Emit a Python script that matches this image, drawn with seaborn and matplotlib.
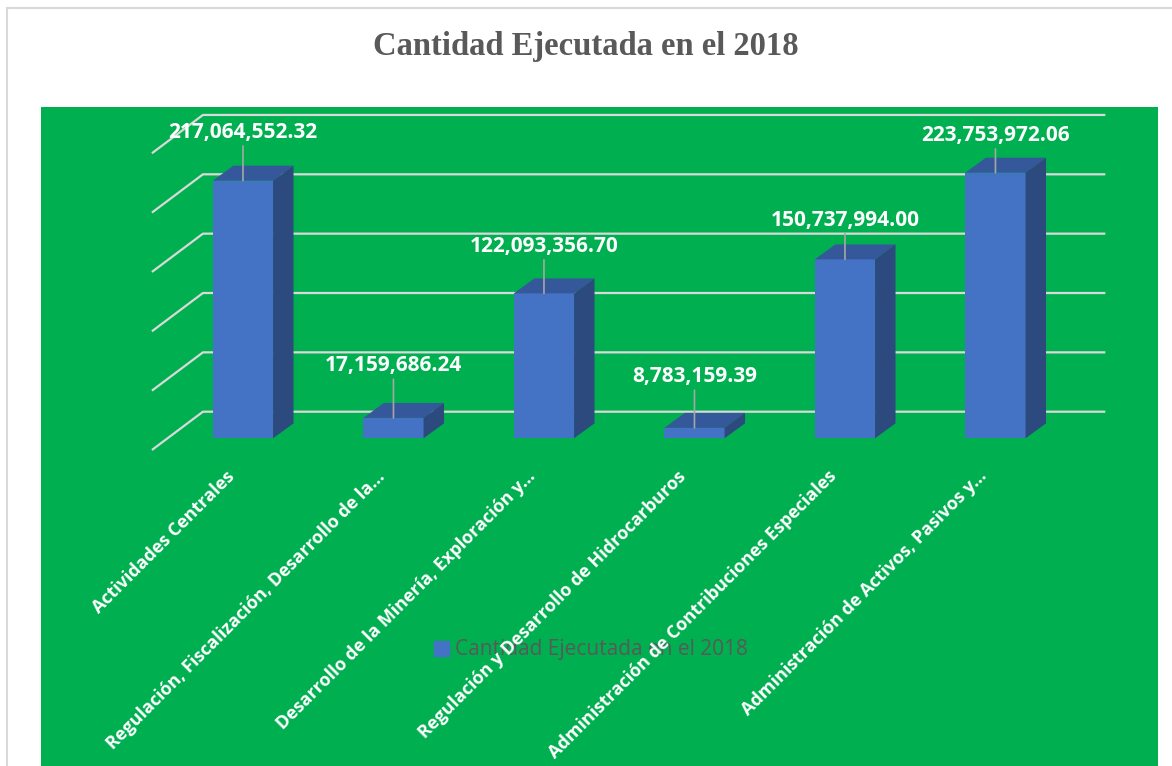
import matplotlib
matplotlib.use("Agg")
import matplotlib.pyplot as plt
import matplotlib.patches as mpatches
import matplotlib.transforms as mtransforms
import seaborn as sns

# data
categories = [
    "Actividades Centrales",
    "Regulación, Fiscalización, Desarrollo de la...",
    "Desarrollo de la Minería, Exploración y...",
    "Regulación y Desarrollo de Hidrocarburos",
    "Administración de Contribuciones Especiales",
    "Administración de Activos, Pasivos y...",
]
values = [217064552.32, 17159686.24, 122093356.70, 8783159.39, 150737994.00, 223753972.06]
grid_values = [0, 50e6, 100e6, 150e6, 200e6, 250e6]
series_name = "Cantidad Ejecutada en el 2018"

W, H = 1172, 766
fig = plt.figure(figsize=(W / 100, H / 100), dpi=100)
fig.patch.set_facecolor("white")

# outer chart border and green plot area
fig.patches.append(mpatches.Rectangle((6.5 / W, -0.01), 1.0, 1 - 8 / H + 0.01, transform=fig.transFigure,
                                      facecolor="white", edgecolor="#D9D9D9", lw=1.5, zorder=-3))
fig.patches.append(mpatches.Rectangle((41 / W, 0), (1158 - 41) / W, 1 - 107 / H, transform=fig.transFigure,
                                      facecolor="#00B050", edgecolor="none", zorder=-2))

ax = fig.add_axes([41 / W, 1 - 450 / H, (1158 - 41) / W, (450 - 107) / H])
ax.set_facecolor("none")
for s in ax.spines.values():
    s.set_visible(False)

front = "#4472C4"
top_c = "#35589A"
side_c = "#2C4A7E"

sns.barplot(x=categories, y=values, color=front, saturation=1, width=0.4, ax=ax, zorder=3, linewidth=0)

ax.set_xlim(-1.342, 6.080)
ax.set_ylim(-9.86e6, 279.1e6)

# back wall gridlines with the floor perspective on the left
for v in grid_values:
    ax.plot([-0.605, -0.266, 5.73], [v - 9.86e6, v + 22.4e6, v + 22.4e6],
            color="#D9D9D9", lw=1.6, zorder=1, clip_on=False, solid_capstyle="butt")

# 3D look: top and side faces
dx, dy = 0.136, 12.6e6
for p in ax.patches[:len(values)]:
    x0 = p.get_x()
    x1 = x0 + p.get_width()
    h = p.get_height()
    ax.add_patch(mpatches.Polygon([(x0, h), (x0 + dx, h + dy), (x1 + dx, h + dy), (x1, h)],
                                  closed=True, facecolor=top_c, edgecolor="none", zorder=3))
    ax.add_patch(mpatches.Polygon([(x1, 0), (x1 + dx, dy), (x1 + dx, h + dy), (x1, h)],
                                  closed=True, facecolor=side_c, edgecolor="none", zorder=3))

# data labels with leader lines
label_lift = [48, 52, 47, 51, 39, 37]
for i, v in enumerate(values):
    ax.annotate(f"{v:,.2f}", xy=(i, v), xytext=(0, label_lift[i] * 0.72), textcoords="offset points",
                ha="center", va="center", color="white", fontsize=15, fontweight="bold",
                family="Open Sans", zorder=5,
                arrowprops=dict(arrowstyle="-", color="#A6A6A6", lw=1.2, shrinkA=0, shrinkB=0))

ax.set_yticks([])
ax.set_xlabel("")
ax.set_ylabel("")
ax.tick_params(axis="x", length=0, pad=17)
offset = mtransforms.ScaledTranslation(-11 / 100, 0, fig.dpi_scale_trans)
for lab in ax.get_xticklabels():
    lab.set_rotation(45)
    lab.set_ha("right")
    lab.set_va("center")
    lab.set_rotation_mode("anchor")
    lab.set_color("white")
    lab.set_fontweight("bold")
    lab.set_fontsize(13)
    lab.set_family("Open Sans")
    lab.set_transform(lab.get_transform() + offset)

fig.text(0.5, 1 - 47 / H, "Cantidad Ejecutada en el 2018", ha="center", va="center",
         family="Liberation Serif", fontweight="bold", fontsize=23.5, color="#595959")

leg = fig.legend(handles=[mpatches.Patch(color=front, label=series_name)], loc="center",
                 bbox_to_anchor=(591 / W, 1 - 650 / H), frameon=False, handlelength=0.7,
                 handleheight=0.7, handletextpad=0.3, prop={"family": "Open Sans", "size": 15})
for t in leg.get_texts():
    t.set_color("#595959")
leg.set_zorder(-1)

fig.savefig("out.png", dpi=100)
